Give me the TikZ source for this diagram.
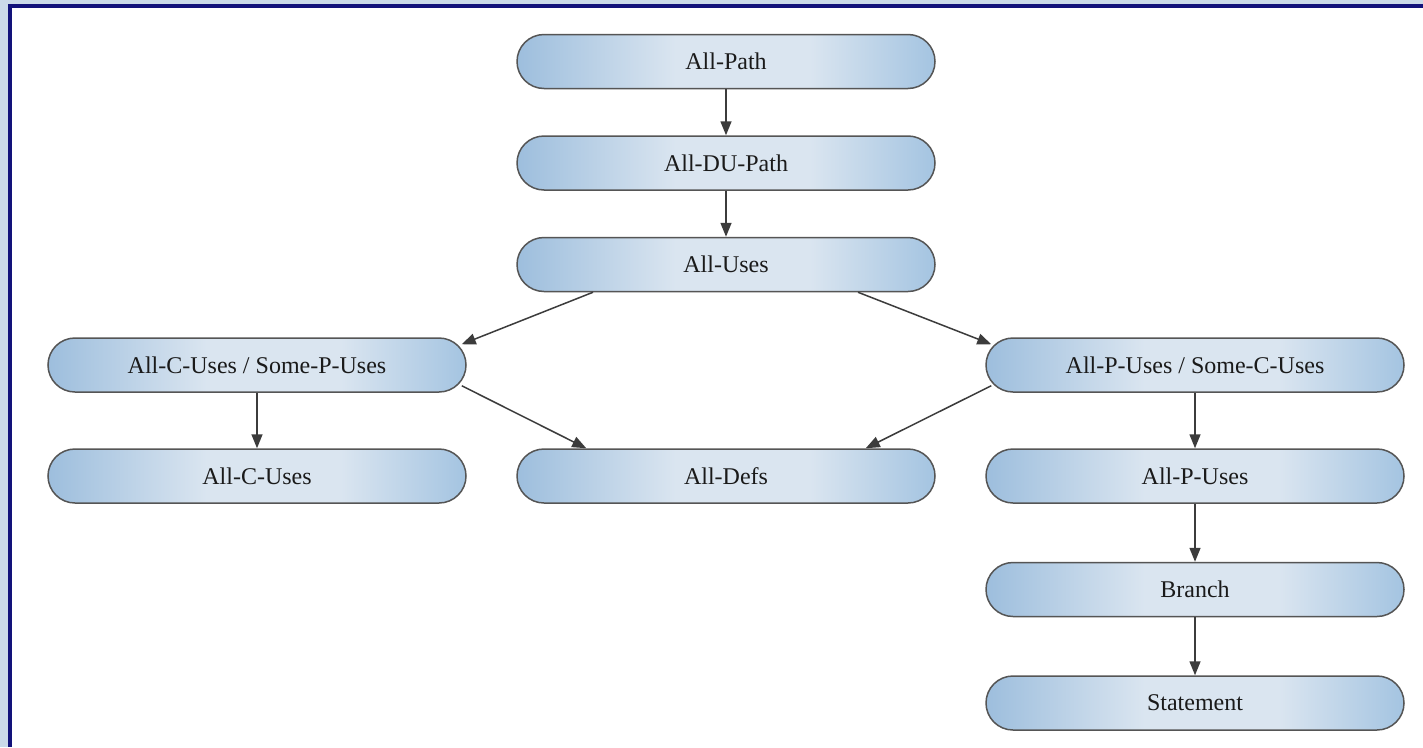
\documentclass[tikz,border=0pt]{standalone}
\usepackage{fontspec}
\setmainfont{Liberation Serif}
\usetikzlibrary{arrows.meta,calc}

\definecolor{frameouter}{HTML}{CBDAE9}
\definecolor{framenavy}{HTML}{12127A}
\definecolor{pillA}{HTML}{9DBEDD}
\definecolor{pillB}{HTML}{DAE5F0}
\definecolor{pillC}{HTML}{A4C4E1}
\definecolor{pillline}{HTML}{555555}
\definecolor{arrowgray}{HTML}{3C3C3C}
\definecolor{labeltext}{HTML}{1A1A1A}

% the node box spans 25bp..75bp of the shading square
\pgfdeclarehorizontalshading{pillshade}{100bp}{%
  color(0bp)=(pillA); color(25bp)=(pillA); color(44bp)=(pillB);
  color(60bp)=(pillB); color(75bp)=(pillC); color(100bp)=(pillC)}

\tikzset{
  pill/.style={draw=pillline, line width=1.5pt, shading=pillshade,
    rounded corners=27pt, minimum width=418pt, minimum height=54pt,
    inner sep=0pt, text=labeltext,
    font=\fontsize{24}{28}\selectfont},
  link/.style={draw=arrowgray, line width=1.5pt,
    -{Triangle[length=14pt,width=11pt]}}
}

\begin{document}
\begin{tikzpicture}[x=1pt,y=-1pt]
  % page frame: pale outer strip, navy rule, white ground
  \fill[frameouter] (0,0) rectangle (1423,747);
  \fill[framenavy] (8,4) rectangle (1423,747);
  \fill[white] (12,8) rectangle (1423,747);
  \useasboundingbox (0,0) rectangle (1423,747);

  % criteria
  \node[pill] (path)   at (726,61.5) {All-Path};
  \node[pill] (du)     at (726,163)  {All-DU-Path};
  \node[pill] (uses)   at (726,264.5) {All-Uses};
  \node[pill] (cs)     at (257,365)  {All-C-Uses / Some-P-Uses};
  \node[pill] (ps)     at (1195,365) {All-P-Uses / Some-C-Uses};
  \node[pill] (cuses)  at (257,476)  {All-C-Uses};
  \node[pill] (defs)   at (726,476)  {All-Defs};
  \node[pill] (puses)  at (1195,476) {All-P-Uses};
  \node[pill] (branch) at (1195,589.5) {Branch};
  \node[pill] (stmt)   at (1195,703) {Statement};

  % connector end points on the diagonal links
  \coordinate (usesL) at ($(uses.south)+(-133,0)$);
  \coordinate (usesR) at ($(uses.south)+(132,0)$);
  \coordinate (csIn)  at ($(cs.north east)+(-5,7)$);
  \coordinate (csOut) at ($(cs.south east)+(-5,-7)$);
  \coordinate (psIn)  at ($(ps.north west)+(6,7)$);
  \coordinate (psOut) at ($(ps.south west)+(6,-7)$);
  \coordinate (defsL) at ($(defs.north west)+(70,0)$);
  \coordinate (defsR) at ($(defs.north east)+(-70,0)$);

  % subsumption links
  \draw[link] (path) -- (du);
  \draw[link] (du) -- (uses);
  \draw[link] (usesL) -- (csIn);
  \draw[link] (usesR) -- (psIn);
  \draw[link] (cs) -- (cuses);
  \draw[link] (csOut) -- (defsL);
  \draw[link] (psOut) -- (defsR);
  \draw[link] (ps) -- (puses);
  \draw[link] (puses) -- (branch);
  \draw[link] (branch) -- (stmt);
\end{tikzpicture}
\end{document}
